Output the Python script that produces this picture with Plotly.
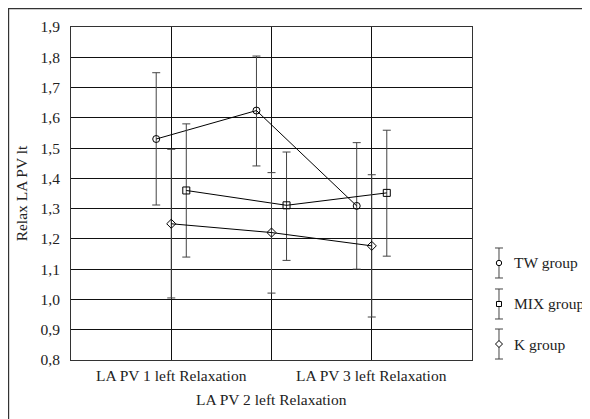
import plotly.graph_objects as go

# === DATA ===
categories = ["LA PV 1 left Relaxation", "LA PV 2 left Relaxation", "LA PV 3 left Relaxation"]
groups = ["TW group", "MIX group", "K group"]
means = {
    "TW group": [1.53, 1.624, 1.309],
    "MIX group": [1.36, 1.311, 1.352],
    "K group": [1.25, 1.221, 1.177],
}
upper = {
    "TW group": [1.749, 1.804, 1.518],
    "MIX group": [1.58, 1.487, 1.559],
    "K group": [1.496, 1.419, 1.412],
}
lower = {
    "TW group": [1.312, 1.441, 1.10],
    "MIX group": [1.14, 1.129, 1.143],
    "K group": [1.005, 1.021, 0.942],
}
y_ticks = [0.8, 0.9, 1.0, 1.1, 1.2, 1.3, 1.4, 1.5, 1.6, 1.7, 1.8, 1.9]

# === STYLE ===
symbols = {"TW group": "circle-open", "MIX group": "square-open", "K group": "diamond-open"}
offsets = {"TW group": -0.15, "MIX group": 0.15, "K group": 0.0}
FONT = "Liberation Serif, serif"
FS = 15.5
INK = "#222"
BAR = "#444"

fig = go.Figure()
pos = [1, 2, 3]
for g in groups:
    xs = [p + offsets[g] for p in pos]
    fig.add_trace(go.Scatter(
        x=xs, y=means[g], mode="lines+markers", name=g,
        line=dict(color="black", width=1),
        marker=dict(symbol=symbols[g], size=7, color="black", line=dict(width=1, color="black")),
        error_y=dict(
            type="data", symmetric=False,
            array=[u - m for u, m in zip(upper[g], means[g])],
            arrayminus=[m - l for m, l in zip(means[g], lower[g])],
            color=BAR, thickness=1, width=4,
        ),
        showlegend=False,
    ))

# staggered category labels
for i, c in enumerate(categories):
    fig.add_annotation(
        x=pos[i], y=-0.048 if i != 1 else -0.12, xref="x", yref="paper",
        text=c, showarrow=False, yanchor="middle",
        font=dict(family=FONT, size=FS, color=INK),
    )

# hand-drawn legend (vertical error-bar keys, as in the original)
leg_x = 1.0673
leg_text_x = 1.099
leg_y = {"TW group": 0.2913, "MIX group": 0.1682, "K group": 0.048}
marker_paths = {
    "TW group": None,
    "MIX group": "M -2.5 -2.5 L 2.5 -2.5 L 2.5 2.5 L -2.5 2.5 Z",
    "K group": "M 0 -3.5 L 3.5 0 L 0 3.5 L -3.5 0 Z",
}
for g in groups:
    yy = leg_y[g]
    common = dict(xref="paper", yref="paper", xsizemode="pixel", ysizemode="pixel",
                  xanchor=leg_x, yanchor=yy)
    fig.add_shape(type="line", x0=0, x1=0, y0=-15, y1=15, line=dict(color=BAR, width=1), **common)
    for cy in (-15, 15):
        fig.add_shape(type="line", x0=-4, x1=4, y0=cy, y1=cy, line=dict(color=BAR, width=1), **common)
    if marker_paths[g] is None:
        fig.add_shape(type="circle", x0=-2.7, x1=2.7, y0=-2.7, y1=2.7, fillcolor="white",
                      line=dict(color="black", width=1), **common)
    else:
        fig.add_shape(type="path", path=marker_paths[g], fillcolor="white",
                      line=dict(color="black", width=1), **common)
    fig.add_annotation(x=leg_text_x, y=yy, xref="paper", yref="paper", text=g,
                       showarrow=False, xanchor="left", yanchor="middle",
                       font=dict(family=FONT, size=FS, color=INK))

# outer frame
fig.add_shape(type="rect", xref="paper", yref="paper",
              x0=-0.156, x1=1.4, y0=-0.3, y1=1.0556,
              line=dict(color="#333", width=1.5), layer="below")

fig.update_layout(
    width=590, height=419,
    margin=dict(l=63, r=126, t=19, b=67, autoexpand=False),
    plot_bgcolor="white", paper_bgcolor="white",
    font=dict(family=FONT, size=FS, color=INK),
    showlegend=False,
    xaxis=dict(range=[0, 4], tickvals=pos, ticktext=["", "", ""],
               showgrid=True, gridcolor="#111", gridwidth=1,
               showline=True, linecolor="#333", linewidth=1, mirror=True,
               zeroline=False, automargin=False),
    yaxis=dict(range=[0.8, 1.9], tickvals=y_ticks,
               ticktext=[f"{v:.1f}".replace(".", ",") for v in y_ticks],
               showgrid=True, gridcolor="#111", gridwidth=1,
               showline=True, linecolor="#333", linewidth=1, mirror=True,
               zeroline=False, ticklabelstandoff=7, automargin=False,
               title=dict(text="Relax LA PV lt", standoff=9,
                          font=dict(family=FONT, size=FS, color=INK))),
)

fig.write_html("out.html")
